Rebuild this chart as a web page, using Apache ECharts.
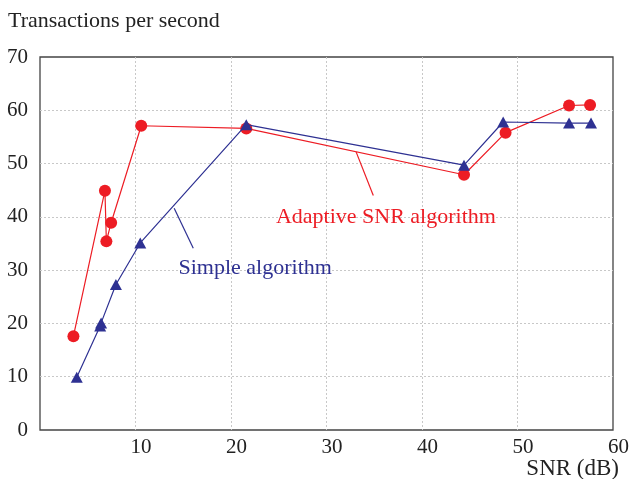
<!DOCTYPE html>
<html><head><meta charset="utf-8">
<script src="https://cdn.jsdelivr.net/npm/echarts@6/dist/echarts.min.js"></script>
<style>html,body{margin:0;padding:0;background:#fff}#c{width:632px;height:479px}</style>
</head><body><div id="c"></div>
<script>
const adaptiveX = [3.5, 6.8, 6.95, 7.45, 10.6, 21.6, 44.4, 48.75, 55.4, 57.6];
const adaptiveY = [17.6, 44.9, 35.4, 38.9, 57.1, 56.6, 47.9, 55.8, 60.9, 61.0];
const simpleX = [3.85, 6.3, 6.4, 7.95, 10.5, 21.6, 44.4, 48.5, 55.4, 57.7];
const simpleY = [9.9, 19.5, 20.1, 27.3, 35.1, 57.3, 49.7, 57.8, 57.6, 57.6];
const xTicks = [0, 10, 20, 30, 40, 50, 60];
const yTicks = [0, 10, 20, 30, 40, 50, 60, 70];
const labelAdaptive = 'Adaptive SNR algorithm';
const labelSimple = 'Simple algorithm';
const yTitle = 'Transactions per second';
const xTitle = 'SNR (dB)';

const RED = '#ed1c24', BLUE = '#2e3192';
const FONT = '"Liberation Serif", "DejaVu Serif", serif';
const chart = echarts.init(document.getElementById('c'), null, {renderer: 'canvas'});
const pair = (xs, ys) => xs.map((x, i) => [x, ys[i]]);
const split = {show: true, showMinLine: false, showMaxLine: false, lineStyle: {color: '#c8c8c8', type: [2, 2], width: 1}};

chart.setOption({
  animation: false,
  backgroundColor: '#fff',
  grid: {left: 40, right: 16, top: 57, bottom: 49, show: true, borderColor: '#444', borderWidth: 1.3, backgroundColor: 'transparent'},
  xAxis: {
    type: 'value', min: xTicks[0], max: xTicks[xTicks.length - 1], interval: 10,
    axisLine: {show: false}, axisTick: {show: false},
    splitLine: split,
    axisLabel: {fontFamily: FONT, fontSize: 21, color: '#222', margin: 7, padding: [0, 0, 0, 11],
      formatter: v => v === 0 ? '' : String(v)}
  },
  yAxis: {
    type: 'value', min: yTicks[0], max: yTicks[yTicks.length - 1], interval: 10,
    axisLine: {show: false}, axisTick: {show: false},
    splitLine: split,
    axisLabel: {fontFamily: FONT, fontSize: 21, color: '#222', margin: 12}
  },
  series: [
    {type: 'line', name: labelSimple, data: pair(simpleX, simpleY), symbol: 'triangle', symbolSize: [12, 11],
      lineStyle: {color: BLUE, width: 1.2}, itemStyle: {color: BLUE}, z: 3},
    {type: 'line', name: labelAdaptive, data: pair(adaptiveX, adaptiveY), symbol: 'circle', symbolSize: 12,
      lineStyle: {color: RED, width: 1.2}, itemStyle: {color: RED}, z: 2}
  ]
});

// annotation anchors in data coordinates
const annSimpleText = [14.5, 30.3], annSimpleLine = [[14.05, 41.6], [16.05, 34.1]];
const annAdaptText = [24.7, 39.9], annAdaptLine = [[33.1, 52.2], [34.9, 44.0]];
const px = p => chart.convertToPixel({gridIndex: 0}, p);
const sT = px(annSimpleText), aT = px(annAdaptText);
const sL = annSimpleLine.map(px), aL = annAdaptLine.map(px);
chart.setOption({
  graphic: [
    {type: 'text', x: 8, y: 21, style: {text: yTitle, font: '22px ' + FONT, fill: '#222', verticalAlign: 'middle'}},
    {type: 'text', x: 619, y: 469, style: {text: xTitle, font: '23px ' + FONT, fill: '#222', align: 'right', verticalAlign: 'middle'}},
    {type: 'text', x: sT[0], y: sT[1], style: {text: labelSimple, font: '22px ' + FONT, fill: BLUE, verticalAlign: 'middle'}, z: 10},
    {type: 'text', x: aT[0], y: aT[1], style: {text: labelAdaptive, font: '22px ' + FONT, fill: RED, verticalAlign: 'middle'}, z: 10},
    {type: 'line', shape: {x1: sL[0][0], y1: sL[0][1], x2: sL[1][0], y2: sL[1][1]}, style: {stroke: BLUE, lineWidth: 1.2}, z: 10},
    {type: 'line', shape: {x1: aL[0][0], y1: aL[0][1], x2: aL[1][0], y2: aL[1][1]}, style: {stroke: RED, lineWidth: 1.2}, z: 10}
  ]
});
</script></body></html>
